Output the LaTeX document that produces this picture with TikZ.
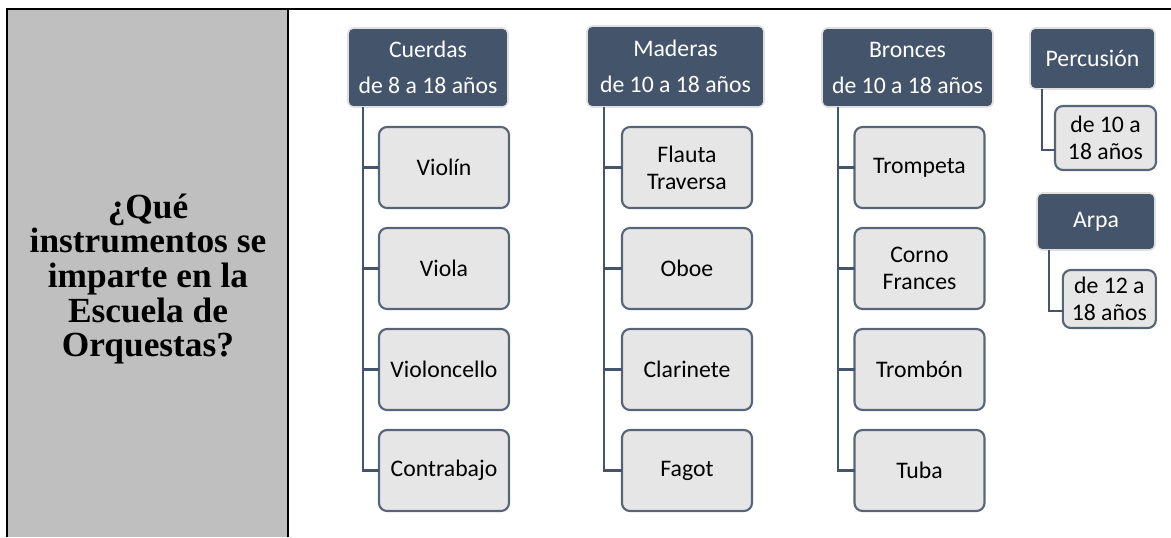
\documentclass[tikz,border=0pt]{standalone}
\usepackage{fontspec}
\setmainfont{Carlito}
\newfontfamily\preguntafont{Liberation Serif}
\usetikzlibrary{positioning}
\definecolor{pizarra}{HTML}{44546A}
\definecolor{grisclaro}{HTML}{E7E6E6}
\definecolor{griscelda}{HTML}{BFBFBF}
\def \px {0.75pt}

\tikzset{
  grupo/.style={fill=pizarra, draw=white!88!black, line width=1.2pt,
    rounded corners=4pt, text=white, align=center, inner sep=2pt,
    outer sep=0pt, font=\fontsize{17.8}{27}\selectfont},
  inst/.style={fill=grisclaro, draw=pizarra!90!white, line width=1.6pt,
    rounded corners=6pt, align=center, inner sep=2pt, outer sep=0pt,
    minimum width=97.5pt, minimum height=60.75pt,
    font=\fontsize{17.8}{20.3}\selectfont},
  chico/.style={inst, minimum width=75.75pt, minimum height=48pt},
  rama/.style={draw=pizarra, line width=2.2pt}
}

\begin{document}
\begin{tikzpicture}[x=\px,y=-\px,node distance=15pt]
  \useasboundingbox (0,0) rectangle (1171,537);
  % celda de la pregunta
  \fill[griscelda] (7,9) rectangle (288,537);
  \draw[line width=2.2pt] (7,537) |- (1171,9);
  \draw[line width=2.2pt] (288,9) -- (288,537);
  \node[align=center, font=\preguntafont\bfseries\fontsize{26.5}{25.9}\selectfont] (pregunta) at (148,279)
    {¿Qué\\instrumentos se\\imparte en la\\Escuela de\\Orquestas?};

  % familias
  \node[grupo, minimum width=120pt, minimum height=59.25pt] (cuerdas) at (428,67.5) {Cuerdas\\de 8 a 18 años};
  \node[grupo, minimum width=132.75pt, minimum height=60.75pt] (maderas) at (675.5,66.5) {Maderas\\de 10 a 18 años};
  \node[grupo, minimum width=128.25pt, minimum height=59.25pt] (bronces) at (907.5,67.5) {Bronces\\de 10 a 18 años};
  \node[grupo, minimum width=93.75pt, minimum height=45.75pt] (percusion) at (1092.5,58.5) {Percusión};
  \node[grupo, minimum width=88.5pt, minimum height=42.75pt] (arpa) at (1096,221.5) {Arpa};

  % cuerdas
  \node[inst, below=of cuerdas, xshift=12pt] (violin) {Violín};
  \node[inst, below=of violin] (viola) {Viola};
  \node[inst, below=of viola] (violoncello) {Violoncello};
  \node[inst, below=of violoncello] (contrabajo) {Contrabajo};
  % maderas
  \node[inst, below=of maderas, xshift=8.6pt] (flauta) {Flauta\\Traversa};
  \node[inst, below=of flauta] (oboe) {Oboe};
  \node[inst, below=of oboe] (clarinete) {Clarinete};
  \node[inst, below=of clarinete] (fagot) {Fagot};
  % bronces
  \node[inst, below=of bronces, xshift=9pt] (trompeta) {Trompeta};
  \node[inst, below=of trompeta] (corno) {Corno\\Frances};
  \node[inst, below=of corno] (trombon) {Trombón};
  \node[inst, below=of trombon] (tuba) {Tuba};
  % percusion y arpa
  \node[chico, below=12.75pt of percusion, xshift=9.75pt] (edadperc) {de 10 a\\18 años};
  \node[chico, minimum width=69.75pt, minimum height=43.5pt, below=of arpa, xshift=10pt] (edadarpa) {de 12 a\\18 años};

  \foreach \k in {violin,viola,violoncello,contrabajo}
    \draw[rama] ([xshift=11.25pt]cuerdas.south west) |- (\k.west);
  \foreach \k in {flauta,oboe,clarinete,fagot}
    \draw[rama] ([xshift=12.75pt]maderas.south west) |- (\k.west);
  \foreach \k in {trompeta,corno,trombon,tuba}
    \draw[rama] ([xshift=12pt]bronces.south west) |- (\k.west);
  \draw[rama] ([xshift=9pt]percusion.south west) |- ([yshift=-9pt]edadperc.west);
  \draw[rama] ([xshift=9pt]arpa.south west) |- ([yshift=-9pt]edadarpa.west);
\end{tikzpicture}
\end{document}
